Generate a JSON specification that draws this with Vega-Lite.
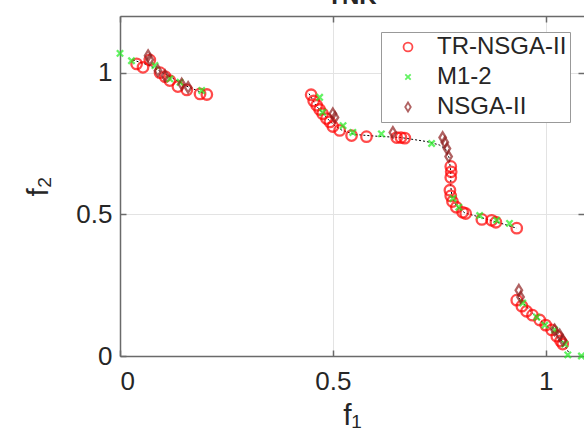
{
  "$schema": "https://vega.github.io/schema/vega-lite/v6.json",
  "width": 464,
  "height": 340,
  "autosize": {"type": "none"},
  "padding": {"left": 120, "top": 16, "right": 0, "bottom": 90},
  "background": "white",
  "config": {"view": {"stroke": null}, "font": "Arial"},
  "title": {"text": "TNK", "fontSize": 24, "fontWeight": "bold", "color": "#262626", "anchor": "middle", "offset": 6},
  "datasets": {
    "pf": [
      {"seg": "A", "f1": 0.03, "f2": 1.045}, {"seg": "A", "f1": 0.07, "f2": 1.025}, {"seg": "A", "f1": 0.1, "f2": 1.0}, {"seg": "A", "f1": 0.13, "f2": 0.975}, {"seg": "A", "f1": 0.16, "f2": 0.95}, {"seg": "A", "f1": 0.2, "f2": 0.925},
      {"seg": "B", "f1": 0.444, "f2": 0.926}, {"seg": "B", "f1": 0.46, "f2": 0.885}, {"seg": "B", "f1": 0.48, "f2": 0.85}, {"seg": "B", "f1": 0.5, "f2": 0.818}, {"seg": "B", "f1": 0.52, "f2": 0.798}, {"seg": "B", "f1": 0.55, "f2": 0.782}, {"seg": "B", "f1": 0.6, "f2": 0.776}, {"seg": "B", "f1": 0.66, "f2": 0.771}, {"seg": "B", "f1": 0.72, "f2": 0.757}, {"seg": "B", "f1": 0.75, "f2": 0.745}, {"seg": "B", "f1": 0.765, "f2": 0.73}, {"seg": "B", "f1": 0.773, "f2": 0.7}, {"seg": "B", "f1": 0.777, "f2": 0.65}, {"seg": "B", "f1": 0.777, "f2": 0.6}, {"seg": "B", "f1": 0.78, "f2": 0.56}, {"seg": "B", "f1": 0.79, "f2": 0.53}, {"seg": "B", "f1": 0.81, "f2": 0.505}, {"seg": "B", "f1": 0.85, "f2": 0.488}, {"seg": "B", "f1": 0.9, "f2": 0.466}, {"seg": "B", "f1": 0.932, "f2": 0.451},
      {"seg": "C", "f1": 0.937, "f2": 0.205}, {"seg": "C", "f1": 0.96, "f2": 0.165}, {"seg": "C", "f1": 0.98, "f2": 0.135}, {"seg": "C", "f1": 1.0, "f2": 0.11}, {"seg": "C", "f1": 1.02, "f2": 0.085}, {"seg": "C", "f1": 1.04, "f2": 0.05}, {"seg": "C", "f1": 1.055, "f2": 0.01}
    ],
    "pts": [
      {"alg": "TR-NSGA-II", "f1": 0.039, "f2": 1.031}, {"alg": "TR-NSGA-II", "f1": 0.054, "f2": 1.019}, {"alg": "TR-NSGA-II", "f1": 0.07, "f2": 1.045}, {"alg": "TR-NSGA-II", "f1": 0.094, "f2": 1.0}, {"alg": "TR-NSGA-II", "f1": 0.106, "f2": 0.986}, {"alg": "TR-NSGA-II", "f1": 0.117, "f2": 0.972}, {"alg": "TR-NSGA-II", "f1": 0.136, "f2": 0.951}, {"alg": "TR-NSGA-II", "f1": 0.157, "f2": 0.939}, {"alg": "TR-NSGA-II", "f1": 0.188, "f2": 0.925}, {"alg": "TR-NSGA-II", "f1": 0.204, "f2": 0.923},
      {"alg": "TR-NSGA-II", "f1": 0.449, "f2": 0.922}, {"alg": "TR-NSGA-II", "f1": 0.455, "f2": 0.9}, {"alg": "TR-NSGA-II", "f1": 0.462, "f2": 0.885}, {"alg": "TR-NSGA-II", "f1": 0.469, "f2": 0.87}, {"alg": "TR-NSGA-II", "f1": 0.476, "f2": 0.855}, {"alg": "TR-NSGA-II", "f1": 0.485, "f2": 0.838}, {"alg": "TR-NSGA-II", "f1": 0.493, "f2": 0.826}, {"alg": "TR-NSGA-II", "f1": 0.5, "f2": 0.81}, {"alg": "TR-NSGA-II", "f1": 0.516, "f2": 0.796}, {"alg": "TR-NSGA-II", "f1": 0.544, "f2": 0.778}, {"alg": "TR-NSGA-II", "f1": 0.579, "f2": 0.774}, {"alg": "TR-NSGA-II", "f1": 0.65, "f2": 0.771}, {"alg": "TR-NSGA-II", "f1": 0.66, "f2": 0.771}, {"alg": "TR-NSGA-II", "f1": 0.669, "f2": 0.769},
      {"alg": "TR-NSGA-II", "f1": 0.777, "f2": 0.669}, {"alg": "TR-NSGA-II", "f1": 0.778, "f2": 0.65}, {"alg": "TR-NSGA-II", "f1": 0.777, "f2": 0.63}, {"alg": "TR-NSGA-II", "f1": 0.775, "f2": 0.585}, {"alg": "TR-NSGA-II", "f1": 0.777, "f2": 0.565}, {"alg": "TR-NSGA-II", "f1": 0.781, "f2": 0.545}, {"alg": "TR-NSGA-II", "f1": 0.79, "f2": 0.525}, {"alg": "TR-NSGA-II", "f1": 0.805, "f2": 0.507}, {"alg": "TR-NSGA-II", "f1": 0.812, "f2": 0.503}, {"alg": "TR-NSGA-II", "f1": 0.85, "f2": 0.482}, {"alg": "TR-NSGA-II", "f1": 0.873, "f2": 0.479}, {"alg": "TR-NSGA-II", "f1": 0.883, "f2": 0.472}, {"alg": "TR-NSGA-II", "f1": 0.932, "f2": 0.451},
      {"alg": "TR-NSGA-II", "f1": 0.932, "f2": 0.197}, {"alg": "TR-NSGA-II", "f1": 0.944, "f2": 0.176}, {"alg": "TR-NSGA-II", "f1": 0.955, "f2": 0.158}, {"alg": "TR-NSGA-II", "f1": 0.969, "f2": 0.144}, {"alg": "TR-NSGA-II", "f1": 0.986, "f2": 0.127}, {"alg": "TR-NSGA-II", "f1": 1.0, "f2": 0.109}, {"alg": "TR-NSGA-II", "f1": 1.014, "f2": 0.092}, {"alg": "TR-NSGA-II", "f1": 1.026, "f2": 0.07}, {"alg": "TR-NSGA-II", "f1": 1.035, "f2": 0.053}, {"alg": "TR-NSGA-II", "f1": 1.04, "f2": 0.042},
      {"alg": "M1-2", "f1": 0.0, "f2": 1.068}, {"alg": "M1-2", "f1": 0.027, "f2": 1.042}, {"alg": "M1-2", "f1": 0.082, "f2": 1.025}, {"alg": "M1-2", "f1": 0.117, "f2": 0.978}, {"alg": "M1-2", "f1": 0.141, "f2": 0.966}, {"alg": "M1-2", "f1": 0.192, "f2": 0.937},
      {"alg": "M1-2", "f1": 0.469, "f2": 0.913}, {"alg": "M1-2", "f1": 0.476, "f2": 0.86}, {"alg": "M1-2", "f1": 0.524, "f2": 0.813}, {"alg": "M1-2", "f1": 0.547, "f2": 0.789}, {"alg": "M1-2", "f1": 0.614, "f2": 0.784},
      {"alg": "M1-2", "f1": 0.732, "f2": 0.75}, {"alg": "M1-2", "f1": 0.782, "f2": 0.556}, {"alg": "M1-2", "f1": 0.796, "f2": 0.525}, {"alg": "M1-2", "f1": 0.845, "f2": 0.496}, {"alg": "M1-2", "f1": 0.885, "f2": 0.479}, {"alg": "M1-2", "f1": 0.915, "f2": 0.468},
      {"alg": "M1-2", "f1": 0.946, "f2": 0.187}, {"alg": "M1-2", "f1": 0.979, "f2": 0.137}, {"alg": "M1-2", "f1": 0.998, "f2": 0.109}, {"alg": "M1-2", "f1": 1.021, "f2": 0.092}, {"alg": "M1-2", "f1": 1.045, "f2": 0.042}, {"alg": "M1-2", "f1": 1.052, "f2": 0.004}, {"alg": "M1-2", "f1": 1.084, "f2": 0.0},
      {"alg": "NSGA-II", "f1": 0.066, "f2": 1.06}, {"alg": "NSGA-II", "f1": 0.07, "f2": 1.046}, {"alg": "NSGA-II", "f1": 0.089, "f2": 1.007}, {"alg": "NSGA-II", "f1": 0.106, "f2": 0.989}, {"alg": "NSGA-II", "f1": 0.145, "f2": 0.96}, {"alg": "NSGA-II", "f1": 0.16, "f2": 0.948},
      {"alg": "NSGA-II", "f1": 0.5, "f2": 0.855}, {"alg": "NSGA-II", "f1": 0.505, "f2": 0.842}, {"alg": "NSGA-II", "f1": 0.641, "f2": 0.789},
      {"alg": "NSGA-II", "f1": 0.758, "f2": 0.771}, {"alg": "NSGA-II", "f1": 0.763, "f2": 0.754}, {"alg": "NSGA-II", "f1": 0.768, "f2": 0.732}, {"alg": "NSGA-II", "f1": 0.772, "f2": 0.704},
      {"alg": "NSGA-II", "f1": 0.937, "f2": 0.232}, {"alg": "NSGA-II", "f1": 0.941, "f2": 0.208}, {"alg": "NSGA-II", "f1": 1.021, "f2": 0.092}, {"alg": "NSGA-II", "f1": 1.033, "f2": 0.074}, {"alg": "NSGA-II", "f1": 1.04, "f2": 0.056}
    ]
  },
  "layer": [
    {
      "data": {"name": "pf"},
      "mark": {"type": "line", "color": "black", "strokeWidth": 1, "strokeDash": [2, 2]},
      "encoding": {
        "x": {"field": "f1", "type": "quantitative", "scale": {"domain": [0, 1.09], "nice": false, "zero": false},
          "axis": {"orient": "bottom", "values": [0, 0.5, 1], "format": "~g", "tickSize": -6, "labelFontSize": 26, "labelPadding": 18, "labelColor": "#262626", "title": "f₁", "titleFontSize": 30, "titleFontWeight": "normal", "titleColor": "#262626", "titlePadding": 6, "grid": true, "gridColor": "#e3e3e3", "domainColor": "#6a6a6a", "domainWidth": 1.5, "tickColor": "#6a6a6a", "tickWidth": 1.5}},
        "y": {"field": "f2", "type": "quantitative", "scale": {"domain": [0, 1.2], "nice": false, "zero": false},
          "axis": {"orient": "left", "values": [0, 0.5, 1], "format": "~g", "tickSize": -6, "labelFontSize": 26, "labelPadding": 14, "labelColor": "#262626", "title": "f₂", "titleFontSize": 30, "titleFontWeight": "normal", "titleColor": "#262626", "titlePadding": 22, "grid": true, "gridColor": "#e3e3e3", "domainColor": "#6a6a6a", "domainWidth": 1.5, "tickColor": "#6a6a6a", "tickWidth": 1.5}},
        "detail": {"field": "seg"},
        "order": {"field": "f2", "sort": "descending"}
      }
    },
    {
      "data": {"name": "pts"},
      "mark": {"type": "point", "filled": false, "strokeWidth": 2.3, "size": 110},
      "encoding": {
        "x": {"field": "f1", "type": "quantitative", "scale": {"domain": [0, 1.09], "nice": false, "zero": false},
          "axis": {"orient": "top", "values": [0, 0.5, 1], "labels": false, "tickSize": -6, "grid": false, "title": null, "minExtent": 0, "maxExtent": 0, "domainColor": "#6a6a6a", "domainWidth": 1.5, "tickColor": "#6a6a6a", "tickWidth": 1.5}},
        "y": {"field": "f2", "type": "quantitative", "scale": {"domain": [0, 1.2], "nice": false, "zero": false},
          "axis": {"orient": "right", "values": [0, 0.5, 1], "labels": false, "tickSize": -6, "grid": false, "title": null, "minExtent": 0, "maxExtent": 0, "domain": false, "tickColor": "#6a6a6a", "tickWidth": 1.5}},
        "color": {"field": "alg", "type": "nominal",
          "scale": {"domain": ["TR-NSGA-II", "M1-2", "NSGA-II"], "range": ["#ff0000", "#22ee22", "#8f2020"]},
          "legend": {"orient": "none", "legendX": 261, "legendY": 16, "title": null, "padding": 3, "rowPadding": 6, "columnPadding": 0, "labelFontSize": 24, "labelColor": "#262626", "labelLimit": 300, "symbolOffset": 12, "labelOffset": 17, "symbolSize": 80, "symbolStrokeWidth": 1.8, "strokeColor": "#999999", "fillColor": "white"}},
        "shape": {"field": "alg", "type": "nominal",
          "scale": {"domain": ["TR-NSGA-II", "M1-2", "NSGA-II"], "range": ["circle", "M-0.6,-0.6L0.6,0.6M-0.6,0.6L0.6,-0.6", "M0,-1L0.62,0L0,1L-0.62,0Z"]}}
      }
    }
  ]
}
